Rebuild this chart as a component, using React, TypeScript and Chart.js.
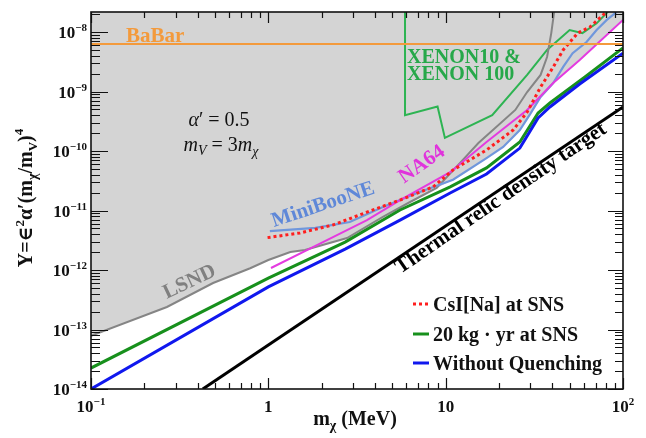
import React, { useEffect, useRef } from "react";
import { Chart, registerables } from "chart.js";

Chart.register(...registerables);

type Pt = [number, number];

// ---- axis ranges and ticks ----
const massMin = 0.1;
const massMax = 100;
const yMin = 1e-14;
const yMax = 2.17e-8;
const xTicks = [0.1, 1, 10, 100];
const xTickText: [string, string][] = [["10", "−1"], ["1", ""], ["10", ""], ["10", "2"]];
const yTicks = [1e-14, 1e-13, 1e-12, 1e-11, 1e-10, 1e-9, 1e-8];
const yTickText: [string, string][] = [
  ["10", "−14"], ["10", "−13"], ["10", "−12"], ["10", "−11"], ["10", "−10"], ["10", "−9"], ["10", "−8"],
];

// ---- series (m_chi in MeV, Y) ----
const withoutQuenching: Pt[] = [
  [0.1, 1e-14], [1, 5.2e-13], [2.71, 2.25e-12], [5.53, 6.9e-12], [10.6, 1.97e-11],
  [17, 4.1e-11], [26.2, 1.12e-10], [33.2, 3.6e-10], [38.7, 5.5e-10], [57, 1.34e-9], [100, 4.4e-9],
];
const kgYr20: Pt[] = [
  [0.1, 2.25e-14], [1, 7.3e-13], [2.71, 2.95e-12], [5.53, 1.02e-11], [10.6, 2.5e-11],
  [17, 5.2e-11], [26.2, 1.42e-10], [33.2, 4.35e-10], [38.7, 6.4e-10], [61, 1.75e-9], [100, 5.4e-9],
];
const csiNa: Pt[] = [
  [0.99, 3.5e-12], [1.51, 4.2e-12], [2.31, 5.7e-12], [3.6, 9.4e-12], [5.53, 1.5e-11],
  [8.5, 2.5e-11], [11, 4.8e-11], [17, 1.04e-10], [24, 2.25e-10], [28.8, 4.5e-10],
  [34.3, 1.19e-9], [40.4, 2.57e-9], [46, 5.0e-9], [55.5, 9.6e-9], [65, 1.21e-8], [81, 2.2e-8],
];
const na64: Pt[] = [
  [1.035, 1.08e-12], [1.88, 2.63e-12], [3.6, 6.9e-12], [5.53, 1.5e-11], [10.6, 4.4e-11],
  [17, 1.42e-10], [28.8, 4.9e-10], [40.4, 1.39e-9], [57, 3.4e-9], [100, 1.6e-8],
];
const miniBooNE: Pt[] = [
  [1.02, 4.5e-12], [1.84, 5.1e-12], [2.88, 6.4e-12], [4.43, 1.15e-11], [6.9, 1.97e-11],
  [11, 3.3e-11], [17, 7.6e-11], [21.1, 1.17e-10], [26.2, 2.25e-10], [30, 4.2e-10],
  [34.3, 8.1e-10], [40.4, 1.39e-9], [46, 2.6e-9], [52, 4.4e-9], [62.3, 6.8e-9],
  [71, 1.08e-8], [81, 1.6e-8], [92.5, 2.2e-8],
];
const lsnd: Pt[] = [
  [0.1, 7.8e-14], [0.268, 2.39e-13], [0.488, 6.05e-13], [0.79, 1.07e-12], [1.0, 1.47e-12],
  [1.33, 2.0e-12], [1.61, 2.17e-12], [2.78, 3.45e-12], [4.43, 7.8e-12], [6.3, 1.39e-11],
  [8.9, 2.4e-11], [12.5, 7.1e-11], [15.3, 1.36e-10], [24.7, 4.9e-10], [28.8, 9.8e-10],
  [34.3, 1.9e-9], [37.3, 3.8e-9], [39.4, 9.6e-9], [41, 2.3e-8],
];
const xenon: Pt[] = [
  [5.9, 3e-8], [5.9, 4.0e-10], [9.0, 5.6e-10], [9.9, 1.66e-10], [18.3, 4.0e-10],
  [28.8, 1.9e-9], [37.3, 5.0e-9], [50, 1.08e-8], [55.5, 1.0e-8], [59, 9.6e-9],
  [71, 1.4e-8], [81, 2.1e-8], [84, 2.4e-8],
];
const babar: Pt[] = [[0.1, 6.3e-9], [100, 6.3e-9]];
const thermalRelic: Pt[] = [[0.427, 1e-14], [100, 5.5e-10]];

// lower edge of the excluded (grey) region, assembled from the curves above
const excludedFloor: Pt[] = [...lsnd.slice(0, 11), ...miniBooNE.slice(5, 12), ...na64.slice(8)];

const legendLabels = ["CsI[Na] at SNS", "20 kg · yr at SNS", "Without Quenching"];

const SERIF = '"Liberation Serif", "Times New Roman", "DejaVu Serif", serif';

type Part = { t: string; size: number; dy?: number; style?: string };

function fontOf(p: Part) {
  return `${p.style ?? "bold"} ${p.size}px ${SERIF}`;
}

function drawRich(ctx: CanvasRenderingContext2D, parts: Part[], x: number, y: number, align: "left" | "center" | "right") {
  let w = 0;
  for (const p of parts) {
    ctx.font = fontOf(p);
    w += ctx.measureText(p.t).width;
  }
  let cx = align === "left" ? x : align === "center" ? x - w / 2 : x - w;
  ctx.textAlign = "left";
  ctx.textBaseline = "alphabetic";
  for (const p of parts) {
    ctx.font = fontOf(p);
    ctx.fillText(p.t, cx, y + (p.dy ?? 0));
    cx += ctx.measureText(p.t).width;
  }
}

function drawRotated(ctx: CanvasRenderingContext2D, text: string, cx: number, cy: number, deg: number, font: string, color: string) {
  ctx.save();
  ctx.translate(cx, cy);
  ctx.rotate((deg * Math.PI) / 180);
  ctx.font = font;
  ctx.fillStyle = color;
  ctx.textAlign = "center";
  ctx.textBaseline = "alphabetic";
  ctx.fillText(text, 0, 0);
  ctx.restore();
}

const toXY = (arr: Pt[]) => arr.map(([x, y]) => ({ x, y }));

const decor = {
  id: "decor",
  afterDraw(chart: any) {
    const ctx: CanvasRenderingContext2D = chart.ctx;
    const a = chart.chartArea;
    const xs = chart.scales.x;
    const ys = chart.scales.y;
    ctx.save();

    // annotations
    const big = `bold 21px ${SERIF}`;
    ctx.fillStyle = "#f39a3c";
    drawRich(ctx, [{ t: "BaBar", size: 21 }], 126, 42, "left");
    ctx.fillStyle = "#27a84a";
    drawRich(ctx, [{ t: "XENON10 &", size: 20 }], 407, 63, "left");
    drawRich(ctx, [{ t: "XENON 100", size: 20 }], 407, 80, "left");
    drawRotated(ctx, "MiniBooNE", 325, 210, -18.5, big, "#5f88d8");
    drawRotated(ctx, "NA64", 425, 169, -35, big, "#e033dc");
    drawRotated(ctx, "LSND", 192, 287, -25.5, big, "#808080");
    drawRotated(ctx, "Thermal relic density target", 504, 203, -34.5, big, "#000");

    ctx.fillStyle = "#111";
    drawRich(ctx, [{ t: "α", size: 20, style: "italic" }, { t: "′ = 0.5", size: 20, style: "normal" }], 219, 126, "center");
    drawRich(
      ctx,
      [
        { t: "m", size: 20, style: "italic" },
        { t: "V", size: 14, style: "italic", dy: 4 },
        { t: " = 3", size: 20, style: "normal" },
        { t: "m", size: 20, style: "italic" },
        { t: "χ", size: 14, style: "italic", dy: 5 },
      ],
      221,
      151,
      "center"
    );

    // legend
    const rows = [311, 341, 370];
    legendLabels.forEach((lab, i) => {
      const ds = chart.data.datasets.find((d: any) => d.label === lab);
      if (!ds) return;
      const yy = rows[i] - 7;
      ctx.save();
      ctx.strokeStyle = ds.borderColor;
      ctx.lineWidth = ds.borderWidth;
      ctx.setLineDash(ds.borderDash ?? []);
      ctx.beginPath();
      ctx.moveTo(413, yy);
      ctx.lineTo(429, yy);
      ctx.stroke();
      ctx.restore();
      ctx.fillStyle = "#111";
      drawRich(ctx, [{ t: lab, size: 20 }], 433, rows[i], "left");
    });

    // ticks
    ctx.strokeStyle = "#111";
    ctx.lineWidth = 1.2;
    ctx.beginPath();
    for (let p = -1; p <= 2; p++) {
      for (let k = 1; k <= 9; k++) {
        const v = k * Math.pow(10, p);
        if (v < massMin - 1e-12 || v > massMax + 1e-9) continue;
        const px = Math.round(xs.getPixelForValue(v)) + 0.5;
        const len = k === 1 ? 11 : 6;
        ctx.moveTo(px, a.bottom);
        ctx.lineTo(px, a.bottom - len);
        ctx.moveTo(px, a.top);
        ctx.lineTo(px, a.top + len);
      }
    }
    for (let p = -14; p <= -8; p++) {
      for (let k = 1; k <= 9; k++) {
        const v = k * Math.pow(10, p);
        if (v > yMax) continue;
        const py = Math.round(ys.getPixelForValue(v)) + 0.5;
        const len = k === 1 ? 17 : 9;
        ctx.moveTo(a.left, py);
        ctx.lineTo(a.left + len, py);
        ctx.moveTo(a.right, py);
        ctx.lineTo(a.right - (k === 1 ? 15 : 8), py);
      }
    }
    ctx.stroke();

    // frame
    ctx.lineWidth = 1.6;
    ctx.strokeRect(a.left, a.top, a.right - a.left, a.bottom - a.top);

    // tick labels
    ctx.fillStyle = "#111";
    yTicks.forEach((v, i) => {
      const py = ys.getPixelForValue(v);
      const [b, e] = yTickText[i];
      drawRich(ctx, [{ t: b, size: 17 }, { t: e, size: 11, dy: -7 }], 87, py + 6, "right");
    });
    xTicks.forEach((v, i) => {
      const px = xs.getPixelForValue(v);
      const [b, e] = xTickText[i];
      const parts: Part[] = [{ t: b, size: 17 }];
      if (e) parts.push({ t: e, size: 11, dy: -7 });
      drawRich(ctx, parts, px, 412, "center");
    });

    // axis titles
    drawRich(ctx, [{ t: "m", size: 20 }, { t: "χ", size: 14, dy: 5 }, { t: " (MeV)", size: 20 }], 355, 425, "center");
    ctx.save();
    ctx.translate(32, 198);
    ctx.rotate(-Math.PI / 2);
    drawRich(
      ctx,
      [
        { t: "Y=∈", size: 20 },
        { t: "2", size: 13, dy: -8 },
        { t: "α′(m", size: 20 },
        { t: "χ", size: 14, dy: 5 },
        { t: "/m", size: 20 },
        { t: "V", size: 13, dy: 5 },
        { t: ")", size: 20 },
        { t: "4", size: 13, dy: -9 },
      ],
      0,
      0,
      "center"
    );
    ctx.restore();

    ctx.restore();
  },
};

export default function App() {
  const ref = useRef<HTMLCanvasElement | null>(null);
  useEffect(() => {
    if (!ref.current) return;
    const line = (label: string, data: Pt[], color: string, width: number, extra: any = {}) => ({
      label,
      data: toXY(data),
      borderColor: color,
      borderWidth: width,
      pointRadius: 0,
      tension: 0,
      fill: false,
      ...extra,
    });
    const chart = new Chart(ref.current, {
      type: "line",
      data: {
        datasets: [
          line("BaBar", babar, "#f39a3c", 2),
          line("Without Quenching", withoutQuenching, "#1018ee", 3),
          line("20 kg · yr at SNS", kgYr20, "#17901c", 3),
          line("CsI[Na] at SNS", csiNa, "#ff1e1e", 3, { borderDash: [3, 3] }),
          line("NA64", na64, "#e43be0", 2),
          line("MiniBooNE", miniBooNE, "#7097dc", 2.2),
          line("LSND", lsnd, "#858585", 2),
          line("XENON10 & XENON 100", xenon, "#2db452", 2),
          line("Thermal relic density target", thermalRelic, "#000000", 3),
          {
            label: "excluded",
            data: toXY(excludedFloor),
            borderColor: "rgba(0,0,0,0)",
            borderWidth: 1,
            backgroundColor: "#d4d4d4",
            pointRadius: 0,
            tension: 0,
            fill: "end",
          },
        ] as any,
      },
      options: {
        responsive: false,
        animation: false,
        devicePixelRatio: 1,
        layout: { padding: { left: 91, right: 23, top: 12, bottom: 49 } },
        scales: {
          x: { type: "logarithmic", min: massMin, max: massMax, display: false },
          y: { type: "logarithmic", min: yMin, max: yMax, display: false },
        },
        plugins: {
          legend: { display: false },
          tooltip: { enabled: false },
          filler: { drawTime: "beforeDatasetsDraw" } as any,
        },
      } as any,
      plugins: [decor],
    });
    return () => chart.destroy();
  }, []);
  return (
    <div style={{ position: "absolute", left: 0, top: 0, width: 646, height: 438, background: "#fff" }}>
      <canvas ref={ref} width={646} height={438} style={{ display: "block" }} />
    </div>
  );
}
